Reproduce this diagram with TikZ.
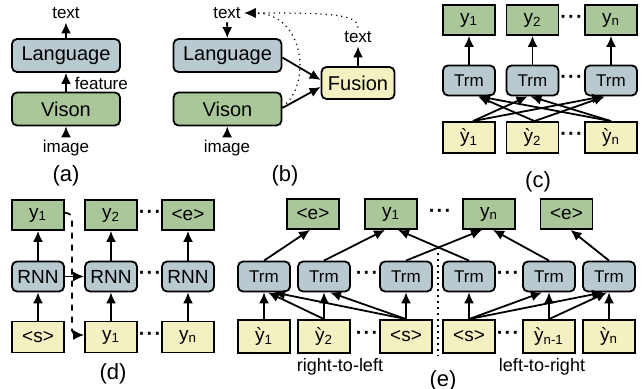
\documentclass[tikz,border=0pt]{standalone}
\usepackage{fontspec}
\setmainfont{Liberation Sans}
\usepackage{xcolor}
\usetikzlibrary{arrows.meta}
\definecolor{boxgreen}{RGB}{170,199,154}
\definecolor{boxblue}{RGB}{184,201,207}
\definecolor{boxyellow}{RGB}{243,241,193}
\tikzset{>={Latex[length=5.5pt,width=5pt]}}
\tikzset{
	blk/.style={draw,line width=0.9pt,inner sep=0pt,text=black},
	bigbox/.style={blk,rounded corners=2.5pt,minimum width=54pt,minimum height=16.5pt,font=\fontsize{10}{11}\selectfont},
	langbox/.style={bigbox,fill=boxblue},
	visbox/.style={bigbox,fill=boxgreen},
	fusbox/.style={bigbox,fill=boxyellow,minimum width=36.5pt,minimum height=16pt},
	outbox/.style={blk,fill=boxgreen,minimum width=26pt,minimum height=15pt,font=\fontsize{9.5}{10}\selectfont},
	inbox/.style={blk,fill=boxyellow,minimum width=26pt,minimum height=15.5pt,font=\fontsize{9.5}{10}\selectfont},
	trmbox/.style={blk,fill=boxblue,rounded corners=2.5pt,minimum width=26pt,minimum height=15pt,font=\fontsize{8.5}{9}\selectfont},
	lbl/.style={inner sep=1.5pt,font=\fontsize{8.5}{9}\selectfont},
	captxt/.style={inner sep=1pt,font=\fontsize{11}{12}\selectfont},
	dts/.style={inner sep=0pt,font=\fontsize{10}{10}\bfseries}
}
\newcommand{\dotrow}{·\kern0.6pt·\kern0.6pt·}

\begin{document}
\begin{tikzpicture}[x=0.5pt,y=-0.5pt,line width=0.9pt]
	\useasboundingbox (0,0) rectangle (642,389);
	% (a)
	\node[langbox] (langA) at (66,55.5) {Language};
	\node[visbox] (visA) at (66,109) {Vison};
	\node[lbl] (textA) at (66,13) {text};
	\node[lbl] (imgA) at (66,148) {image};
	\node[lbl,anchor=west] (featA) at (71,83) {feature};
	\node[captxt] (capA) at (66,176) {(a)};
	\draw[->] (langA) -- (textA);
	\draw[->] (visA) -- (langA);
	\draw[->] (imgA) -- (visA);
	% (b)
	\node[langbox] (langB) at (227.5,55.5) {Language};
	\node[visbox] (visB) at (227.5,109) {Vison};
	\node[fusbox] (fusB) at (358,83) {Fusion};
	\node[lbl] (textB) at (227,13) {text};
	\node[lbl] (textF) at (358,37) {text};
	\node[lbl] (imgB) at (227,148) {image};
	\node[captxt] (capB) at (285,176) {(b)};
	\draw[->] (textB) -- (langB);
	\draw[->] (imgB) -- (visB);
	\draw[->] ([yshift=-1pt]langB.east) -- ([yshift=1.5pt]fusB.west);
	\draw[->] ([yshift=0.5pt]visB.east) -- ([yshift=-2pt]fusB.west);
	\draw[->] (fusB) -- (textF);
	\draw[->,dotted,line width=0.6pt] (textF.north) .. controls (358,14) and (330,13) .. (textB.east);
	\draw[->,dotted,line width=0.6pt] ([yshift=1pt]visB.east) .. controls (312,85) and (305,13) .. (textB.east);
	% (c)
	\node[outbox] (c1out) at (469,20) {y\textsubscript{1}};
	\node[outbox] (c2out) at (532.5,20) {y\textsubscript{2}};
	\node[outbox] (c3out) at (611,20) {y\textsubscript{n}};
	\node[trmbox] (c1trm) at (469,80.5) {Trm};
	\node[trmbox] (c2trm) at (532.5,80.5) {Trm};
	\node[trmbox] (c3trm) at (611,80.5) {Trm};
	\node[inbox] (c1in) at (469,137.5) {\`{y}\textsubscript{1}};
	\node[inbox] (c2in) at (532.5,137.5) {\`{y}\textsubscript{2}};
	\node[inbox] (c3in) at (611,137.5) {\`{y}\textsubscript{n}};
	\node[dts] (cdots1) at (571.5,19) {\dotrow};
	\node[dts] (cdots2) at (571.5,79) {\dotrow};
	\node[dts] (cdots3) at (571.5,136) {\dotrow};
	\node[captxt] (capC) at (538,182) {(c)};
	\draw[->] (c1trm) -- (c1out);
	\draw[->] (c2trm) -- (c2out);
	\draw[->] (c3trm) -- (c3out);
	\draw[->] ([xshift=2pt]c1in.north) -- ([xshift=-2.5pt]c2trm.south);
	\draw[->] ([xshift=2pt]c1in.north) -- ([xshift=-4pt]c3trm.south);
	\draw[->] ([xshift=1pt]c2in.north) -- ([xshift=4.5pt]c1trm.south);
	\draw[->] ([xshift=1pt]c2in.north) -- ([xshift=-3pt]c3trm.south);
	\draw[->] (c3in.north) -- ([xshift=5pt]c1trm.south);
	\draw[->] (c3in.north) -- ([xshift=-1pt]c2trm.south);
	% (d)
	\node[outbox] (d1out) at (38,215) {y\textsubscript{1}};
	\node[outbox] (d2out) at (111,215) {y\textsubscript{2}};
	\node[outbox] (d3out) at (188,215) {\textless e\textgreater};
	\node[trmbox,font=\fontsize{9.5}{10}\selectfont] (d1rnn) at (38,276.5) {RNN};
	\node[trmbox,font=\fontsize{9.5}{10}\selectfont] (d2rnn) at (111,276.5) {RNN};
	\node[trmbox,font=\fontsize{9.5}{10}\selectfont] (d3rnn) at (188,276.5) {RNN};
	\node[inbox] (d1in) at (38,337) {\textless s\textgreater};
	\node[inbox] (d2in) at (111,337) {y\textsubscript{1}};
	\node[inbox] (d3in) at (188,337) {y\textsubscript{n}};
	\node[dts] (ddots1) at (150,214) {\dotrow};
	\node[dts] (ddots2) at (150,275) {\dotrow};
	\node[dts] (ddots3) at (150,336) {\dotrow};
	\node[captxt] (capD) at (113,374) {(d)};
	\draw[->] (d1rnn) -- (d1out);
	\draw[->] (d2rnn) -- (d2out);
	\draw[->] (d3rnn) -- (d3out);
	\draw[->] (d1in) -- (d1rnn);
	\draw[->] (d2in) -- (d2rnn);
	\draw[->] (d3in) -- (d3rnn);
	\draw[->] (d1rnn) -- (d2rnn);
	\draw[->,dashed,rounded corners=3pt] ([yshift=1pt]d1out.east) -- ++(7,0) |- ([yshift=1pt]d2in.west);
	% (e)
	\node[outbox] (e1out) at (313,214) {\textless e\textgreater};
	\node[outbox] (e2out) at (391,214) {y\textsubscript{1}};
	\node[outbox] (e3out) at (489,214) {y\textsubscript{n}};
	\node[outbox] (e4out) at (566.5,214) {\textless e\textgreater};
	\node[dts] (edots0) at (440,213) {\dotrow};
	\node[trmbox] (e1trm) at (264,276.5) {Trm};
	\node[trmbox] (e2trm) at (324,276.5) {Trm};
	\node[trmbox] (e3trm) at (406,276.5) {Trm};
	\node[trmbox] (e4trm) at (469,276.5) {Trm};
	\node[trmbox] (e5trm) at (549,276.5) {Trm};
	\node[trmbox] (e6trm) at (609,276.5) {Trm};
	\node[inbox,minimum height=16.5pt] (e1in) at (264,336.5) {\`{y}\textsubscript{1}};
	\node[inbox,minimum height=16.5pt] (e2in) at (324,336.5) {\`{y}\textsubscript{2}};
	\node[inbox,minimum height=16.5pt] (e3in) at (406,336.5) {\textless s\textgreater};
	\node[inbox,minimum height=16.5pt] (e4in) at (469,336.5) {\textless s\textgreater};
	\node[inbox,minimum height=16.5pt] (e5in) at (549,336.5) {\`{y}\textsubscript{n-1}};
	\node[inbox,minimum height=16.5pt] (e6in) at (609,336.5) {\`{y}\textsubscript{n}};
	\node[dts] (edots1) at (367,275) {\dotrow};
	\node[dts] (edots2) at (508,275) {\dotrow};
	\node[dts] (edots3) at (367,335) {\dotrow};
	\node[dts] (edots4) at (508,335) {\dotrow};
	\coordinate (sepTop) at (438,247);
	\coordinate (sepBot) at (438,356);
	\draw[dotted,line width=1pt] (sepTop) -- (sepBot);
	\node[lbl,font=\fontsize{9}{10}\selectfont] (rtl) at (340,367) {right-to-left};
	\node[lbl,font=\fontsize{9}{10}\selectfont] (ltr) at (542,367) {left-to-right};
	\node[captxt] (capE) at (443,381) {(e)};
	\draw[->] (e1trm.north) -- ([xshift=-1.5pt]e1out.south);
	\draw[->] (e2trm.north) -- ([xshift=-3pt]e2out.south);
	\draw[->] (e3trm.north) -- ([xshift=-3.5pt]e3out.south);
	\draw[->] (e4trm.north) -- ([xshift=3.5pt]e2out.south);
	\draw[->] (e5trm.north) -- ([xshift=2pt]e3out.south);
	\draw[->] (e6trm.north) -- ([xshift=2pt]e4out.south);
	\draw[->] (e1in) -- (e1trm);
	\draw[->] (e2in) -- (e2trm);
	\draw[->] (e3in) -- (e3trm);
	\draw[->] (e2in.north) -- ([xshift=2pt]e1trm.south);
	\draw[->] (e3in.north) -- ([xshift=5pt]e1trm.south);
	\draw[->] (e3in.north) -- ([xshift=3pt]e2trm.south);
	\draw[->] (e4in) -- (e4trm);
	\draw[->] (e5in) -- (e5trm);
	\draw[->] (e6in) -- (e6trm);
	\draw[->] (e4in.north) -- ([xshift=-3.5pt]e5trm.south);
	\draw[->] (e4in.north) -- ([xshift=-3pt]e6trm.south);
	\draw[->] (e5in.north) -- ([xshift=-1pt]e6trm.south);
\end{tikzpicture}
\end{document}
